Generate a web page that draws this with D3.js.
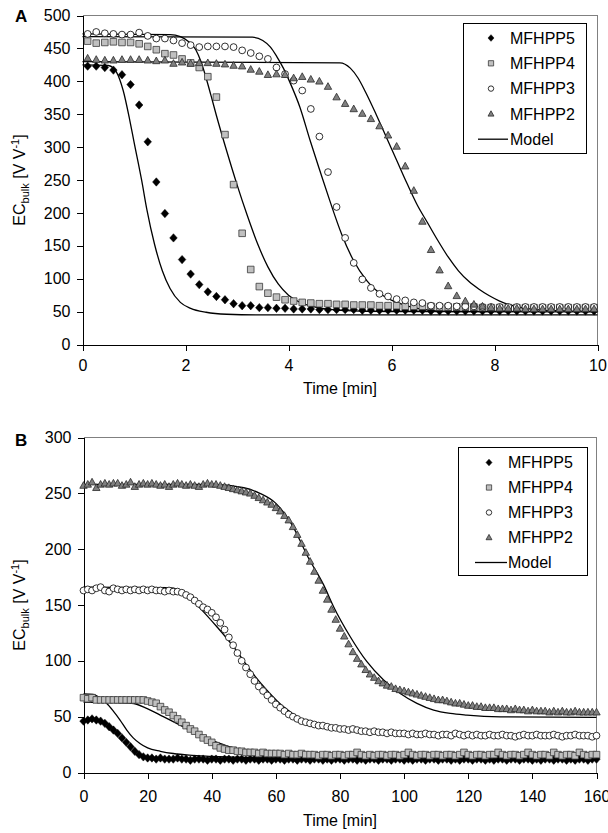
<!DOCTYPE html>
<html>
<head>
<meta charset="utf-8">
<title>EC bulk breakthrough curves</title>
<script src="https://cdnjs.cloudflare.com/ajax/libs/d3/7.8.5/d3.min.js"></script>
<style>
body { margin: 0; background: #fff; }
svg text { font-family: "Liberation Sans", Arial, sans-serif; fill: #000; }
.axis path, .axis line { stroke: #000; shape-rendering: crispEdges; }
.axis text { font-size: 16px; font-family: "Liberation Sans", Arial, sans-serif; }
.frame { fill: none; stroke: #808080; shape-rendering: crispEdges; }
.model { fill: none; stroke: #000; stroke-width: 1.3; }
.legend-box { fill: #fff; stroke: #000; shape-rendering: crispEdges; }
</style>
</head>
<body>
<svg width="608" height="833"></svg>
<script>

// sampling of the measured series
var tA0 = 0.1, tAstep = 1 / 6;   // panel A: one reading every 10 s
var tBstep = 4 / 3;              // panel B: one reading every 80 s

var seriesNames = ["MFHPP5", "MFHPP4", "MFHPP3", "MFHPP2"];

// panel A, EC bulk [V V-1]
var a5 = [423,423,421,417,410,395,364,308,247,199,
          162,129,107,91,80,73,68,62,59,59,
          56,56,55,55,54,54,54,53,53,53,
          53,53,52,52,52,52,52,52,52,52,
          51,51,51,51,51,51,51,51,51,51,
          51,51,51,51,51,51,51,51,51,51];
var a4 = [461,458,459,460,459,459,457,453,448,442,
          440,434,428,421,407,376,319,243,169,114,
          88,78,72,68,66,64,63,62,62,61,
          61,60,60,60,59,59,59,58,58,58,
          58,57,57,57,57,57,56,56,56,56,
          56,56,56,56,56,56,56,56,56,56];
var a3 = [472,475,473,472,471,471,474,469,465,465,
          462,458,455,452,453,453,453,452,447,443,
          438,434,421,411,401,386,358,316,262,209,
          162,124,99,86,77,73,69,67,64,63,
          59,59,59,58,58,58,57,57,57,57,
          57,57,57,57,57,57,57,57,57,57];
var a2 = [435,433,432,432,433,433,433,432,431,432,
          427,429,427,428,428,427,426,424,423,418,
          415,410,411,410,405,407,403,400,392,376,
          366,358,351,343,332,318,301,271,234,187,
          144,113,89,74,66,61,58,56,55,55,
          55,54,54,54,54,54,54,54,54,54];

// panel A model curves [time, EC]
var mA5 = [[0,425],[0.5,424],[0.6,420],[0.66,414],[0.79,386],[0.92,340],[1.0,308],[1.15,249],[1.25,205],[1.4,152],
           [1.55,112],[1.7,85],[1.9,64],[2.1,55],[2.4,49],[2.8,46],[3.5,45],[10,45]];
var mA4 = [[0,472],[1.7,471],[1.9,468],[2.05,461],[2.2,448],[2.3,430],[2.4,405],[2.5,377],[2.6,348],[2.8,294],
           [3.0,243],[3.2,196],[3.4,153],[3.6,118],[3.8,92],[4.0,75],[4.2,65],[4.5,57],[5.0,52],[6.0,50],[10,50]];
var mA3 = [[0,468],[3.3,467],[3.5,462],[3.65,452],[3.77,438],[3.9,420],[4.03,398],[4.22,361],[4.42,310],[4.61,264],
           [4.8,219],[5.03,168],[5.26,128],[5.52,97],[5.84,74],[6.17,62],[6.55,54],[7.14,50],[10,50]];
var mA2 = [[0,430],[5.0,428],[5.2,420],[5.35,405],[5.5,383],[5.7,350],[5.9,315],[6.1,280],[6.3,245],[6.5,212],
           [6.7,185],[6.9,158],[7.1,133],[7.3,112],[7.5,96],[7.7,84],[7.9,74],[8.1,66],[8.4,58],[8.8,53],[9.3,51],[10,50]];

// panel B, EC bulk [V V-1]
var b5 = [46,47,48,47,46,44,41,38,35,31,
          27,23,19,16,14,13,13,12,13,12,
          12,12,13,12,12,11,12,12,12,11,
          12,12,11,12,12,11,12,12,11,12,
          12,11,12,12,11,12,12,11,12,12,
          11,12,12,11,12,12,11,12,11,12,
          12,11,12,12,11,12,11,12,12,11,
          12,12,11,12,12,11,12,11,12,12,
          11,12,12,11,12,12,11,12,11,12,
          12,11,12,12,11,12,11,12,12,11,
          12,12,11,12,12,11,12,11,12,12,
          11,12,12,11,12,11,12,12,11,12,
          12];
var b4 = [67,66,67,65,65,65,65,65,65,65,
          65,65,65,65,65,64,63,62,59,56,
          54,51,48,45,42,39,37,34,31,29,
          27,24,22,21,20,20,19,19,18,18,
          18,17,18,17,17,17,17,16,17,16,
          16,17,16,16,16,15,16,16,15,16,
          16,15,16,16,18,16,15,16,15,16,
          16,15,16,16,15,16,18,16,15,16,
          16,15,16,16,15,16,16,15,16,18,
          16,15,16,16,15,16,16,18,16,15,
          16,16,15,16,18,16,15,16,16,15,
          18,16,15,16,16,15,18,16,15,16,
          16];
var b3 = [163,164,163,165,166,163,162,165,164,163,
          164,163,164,163,164,163,164,163,163,162,
          163,162,162,161,159,157,154,151,148,146,
          143,139,134,128,121,114,107,100,94,88,
          82,77,73,69,65,61,58,55,52,50,
          48,46,45,44,43,42,42,41,40,40,
          39,39,38,39,38,37,37,36,37,36,
          36,35,36,35,35,35,34,35,34,34,
          35,34,34,33,34,34,33,35,34,33,
          34,33,34,33,33,34,33,33,34,33,
          33,32,33,34,33,33,34,33,33,33,
          34,33,32,33,33,34,33,33,33,32,
          33];
var b2 = [257,258,260,255,258,259,258,259,259,257,
          258,260,256,258,259,258,259,258,257,258,
          256,258,259,258,257,258,257,256,258,259,
          258,258,257,256,255,254,253,252,251,250,
          248,246,244,242,240,237,234,230,226,220,
          213,205,197,189,180,172,163,155,146,137,
          129,122,115,108,102,97,92,88,85,82,
          80,78,77,75,74,73,72,71,70,69,
          68,67,66,65,65,64,63,62,62,61,
          60,60,59,59,58,58,58,57,57,57,
          56,57,56,56,55,56,55,55,55,54,
          55,54,55,54,54,55,54,54,54,54,
          54];

// panel B model curves [time, EC]
var mB5 = [[0,70.5],[3,70],[5,67],[7.2,62],[9.3,55],[11.4,47],[13.5,38],[15.5,31],[17.6,26],[20,22],
           [24,19],[28,17],[33,15.5],[40,14.5],[60,13],[160,12]];
var mB4 = [[0,63],[10,62.5],[15,62],[19.7,57.5],[24.9,50],[30.1,42.4],[35.3,35],[40.5,28.3],[45.7,23],[50,20.5],
           [55,19],[65,17],[80,16],[160,15]];
var mB3 = [[0,166],[27,165.5],[30,163],[32.2,159],[36.4,147],[41.6,130.5],[46.8,112.6],[52,91.7],[57.2,73.8],[62.4,58.8],
           [67.6,48.4],[72,43],[77,40],[88,36],[100,34],[120,33],[160,33]];
var mB2 = [[0,258],[40,258],[50,255],[55,250],[60,241],[65,222],[70,193],[74.9,168],[78,148.5],[83.2,121.6],
           [88.4,99.2],[93.6,82.8],[98.8,70.8],[104,61.9],[109.2,55.9],[114.4,52.9],[119.6,51.4],[130,49.9],[160,49.3]];

// ticks
var ticksAx = [0, 2, 4, 6, 8, 10];
var ticksAy = [0, 50, 100, 150, 200, 250, 300, 350, 400, 450, 500];
var ticksBx = [0, 20, 40, 60, 80, 100, 120, 140, 160];
var ticksBy = [0, 50, 100, 150, 200, 250, 300];

// marker shapes (size = half extent in px)
var symDiamond = { draw: function(c, s) { c.moveTo(0, -s); c.lineTo(s * 0.9, 0); c.lineTo(0, s); c.lineTo(-s * 0.9, 0); c.closePath(); } };
var symSquare = { draw: function(c, s) { c.rect(-s, -s, 2 * s, 2 * s); } };
var symCircle = { draw: function(c, s) { c.moveTo(s, 0); c.arc(0, 0, s, 0, 2 * Math.PI); } };
var symTriangle = { draw: function(c, s) { c.moveTo(0, -s * 1.05); c.lineTo(s, s * 0.75); c.lineTo(-s, s * 0.75); c.closePath(); } };

var styles = [
  { sym: symDiamond,  size: 4.2, fill: "#000",    stroke: "#000",    sw: 0.5 },
  { sym: symSquare,   size: 3.3, fill: "#c0c0c0", stroke: "#3a3a3a", sw: 0.8 },
  { sym: symCircle,   size: 3.4, fill: "#fff",    stroke: "#000",    sw: 0.8 },
  { sym: symTriangle, size: 3.7, fill: "#808080", stroke: "#2a2a2a", sw: 0.8 }
];

var panels = [
  { letter: "A", x0: 82.5, x1: 597.5, y0: 344.5, y1: 15.5, xDomain: [0, 10], yDomain: [0, 500],
    xTicks: ticksAx, yTicks: ticksAy, xPad: 9.5, xLabelY: 394, yLabelY: 180, letterY: 22,
    data: [a5, a4, a3, a2], t: function(i) { return tA0 + i * tAstep; },
    models: [mA5, mA4, mA3, mA2],
    legend: { x: 463.5, y: 23.5, w: 123, h: 130, rowY: 38, rowStep: 25.3, mx: 491, tx: 510, lx0: 478, lx1: 508 } },
  { letter: "B", x0: 83.5, x1: 596.5, y0: 772.5, y1: 437.5, xDomain: [0, 160], yDomain: [0, 300],
    xTicks: ticksBx, yTicks: ticksBy, xPad: 12.5, xLabelY: 826, yLabelY: 605, letterY: 446,
    data: [b5, b4, b3, b2], t: function(i) { return i * tBstep; },
    models: [mB5, mB4, mB3, mB2],
    legend: { x: 458.5, y: 447.5, w: 129, h: 128, rowY: 462.5, rowStep: 25, mx: 489, tx: 508, lx0: 475, lx1: 507 } }
];

var svg = d3.select("svg");

panels.forEach(function(p) {
  var x = d3.scaleLinear().domain(p.xDomain).range([p.x0, p.x1]);
  var y = d3.scaleLinear().domain(p.yDomain).range([p.y0, p.y1]);
  var g = svg.append("g");

  // plot area border (top + right)
  g.append("path").attr("class", "frame")
    .attr("d", "M" + p.x0 + "," + p.y1 + "H" + p.x1 + "V" + p.y0);

  g.append("g").attr("class", "axis")
    .attr("transform", "translate(" + p.x0 + ",0)")
    .call(d3.axisLeft(y).tickValues(p.yTicks).tickSize(6).tickPadding(6).tickSizeOuter(0).tickFormat(d3.format("d")));

  g.append("g").attr("class", "axis")
    .attr("transform", "translate(0," + p.y0 + ")")
    .call(d3.axisBottom(x).tickValues(p.xTicks).tickSize(6).tickPadding(p.xPad).tickSizeOuter(0).tickFormat(d3.format("d")));

  g.selectAll(".axis text").style("font-size", "16px");

  // model curves
  var line = d3.line().curve(d3.curveMonotoneX)
    .x(function(d) { return x(d[0]); })
    .y(function(d) { return y(d[1]); });
  g.append("g").selectAll("path")
    .data(p.models)
    .enter().append("path")
      .attr("class", "model")
      .attr("d", line);

  // measured series, MFHPP5 first so MFHPP2 ends on top
  p.data.forEach(function(vals, k) {
    var st = styles[k];
    var sym = d3.symbol().type(st.sym).size(st.size);
    g.append("g").selectAll("path")
      .data(vals)
      .enter().append("path")
        .attr("transform", function(d, i) { return "translate(" + x(p.t(i)) + "," + y(d) + ")"; })
        .attr("d", sym)
        .attr("fill", st.fill)
        .attr("stroke", st.stroke)
        .attr("stroke-width", st.sw);
  });

  // panel letter
  g.append("text").attr("x", 15).attr("y", p.letterY)
    .style("font-size", "17px").style("font-weight", "bold").text(p.letter);

  // axis titles
  g.append("text")
    .attr("x", (p.x0 + p.x1) / 2).attr("y", p.xLabelY)
    .attr("text-anchor", "middle").style("font-size", "16px")
    .text("Time [min]");

  var yl = g.append("text")
    .attr("transform", "translate(25," + p.yLabelY + ") rotate(-90)")
    .attr("text-anchor", "middle").style("font-size", "16px");
  yl.append("tspan").text("EC");
  yl.append("tspan").attr("dy", 4).style("font-size", "11px").text("bulk");
  yl.append("tspan").attr("dy", -4).text(" [V V");
  yl.append("tspan").attr("dy", -6).style("font-size", "11px").text("-1");
  yl.append("tspan").attr("dy", 6).text("]");

  // legend
  var L = p.legend;
  var lg = g.append("g");
  lg.append("rect").attr("class", "legend-box")
    .attr("x", L.x).attr("y", L.y).attr("width", L.w).attr("height", L.h);
  var rows = seriesNames.concat(["Model"]);
  rows.forEach(function(name, k) {
    var ry = L.rowY + k * L.rowStep;
    if (k < styles.length) {
      var st = styles[k];
      lg.append("path")
        .attr("transform", "translate(" + L.mx + "," + ry + ")")
        .attr("d", d3.symbol().type(st.sym).size(st.size * 0.8)())
        .attr("fill", st.fill).attr("stroke", st.stroke).attr("stroke-width", st.sw);
    } else {
      lg.append("line").attr("x1", L.lx0).attr("x2", L.lx1).attr("y1", ry).attr("y2", ry)
        .attr("stroke", "#000").attr("stroke-width", 1.3);
    }
    lg.append("text").attr("x", L.tx).attr("y", ry + 5.8)
      .style("font-size", "16px").text(name);
  });
});

</script>
</body>
</html>
